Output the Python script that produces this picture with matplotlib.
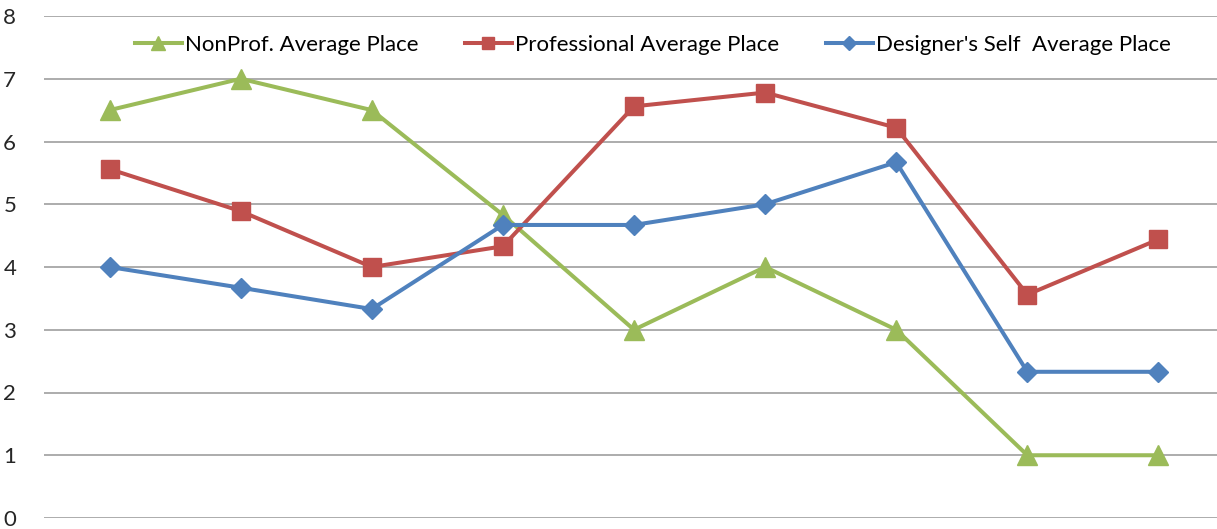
import matplotlib.pyplot as plt
import numpy as np

plt.rcParams['font.family'] = ['Lato', 'DejaVu Sans']

# nine rounds, no labels on the category axis
positions = np.arange(9)
nonprof_avg = [6.5, 7.0, 6.5, 4.83, 3.0, 4.0, 3.0, 1.0, 1.0]
professional_avg = [5.56, 4.89, 4.0, 4.33, 6.56, 6.78, 6.22, 3.56, 4.44]
designer_self_avg = [4.0, 3.67, 3.33, 4.67, 4.67, 5.0, 5.67, 2.33, 2.33]
series_names = ["NonProf. Average Place", "Professional Average Place",
                "Designer's Self  Average Place"]

fig = plt.figure(figsize=(12.17, 5.29), dpi=100)
ax = fig.add_axes([44 / 1217, 11 / 529, 1180 / 1217, 502 / 529])

ax.plot(positions, nonprof_avg, color='#9BBB59', lw=2.9, marker='^', ms=15,
        label=series_names[0])
ax.plot(positions, professional_avg, color='#C0504D', lw=2.9, marker='s', ms=12.5,
        label=series_names[1])
ax.plot(positions, designer_self_avg, color='#4F81BD', lw=2.9, marker='D', ms=10.5,
        label=series_names[2])

ax.set_xlim(-0.5, 8.5)
ax.set_ylim(0, 8)
ax.set_yticks(range(0, 9))
ax.set_xticks([])
ax.yaxis.grid(True, color='#A6A6A6', lw=1.3)
ax.set_axisbelow(True)
for s in ax.spines.values():
    s.set_visible(False)
ax.tick_params(axis='y', length=0, pad=20, labelsize=16, labelcolor='#262626')

ax.legend(loc='center', bbox_to_anchor=(0.516, 0.942), ncol=3, frameon=False,
          fontsize=16, handlelength=2.1, handletextpad=0.15, columnspacing=2.1,
          markerscale=0.65)

fig.savefig('out.png', dpi=100)
